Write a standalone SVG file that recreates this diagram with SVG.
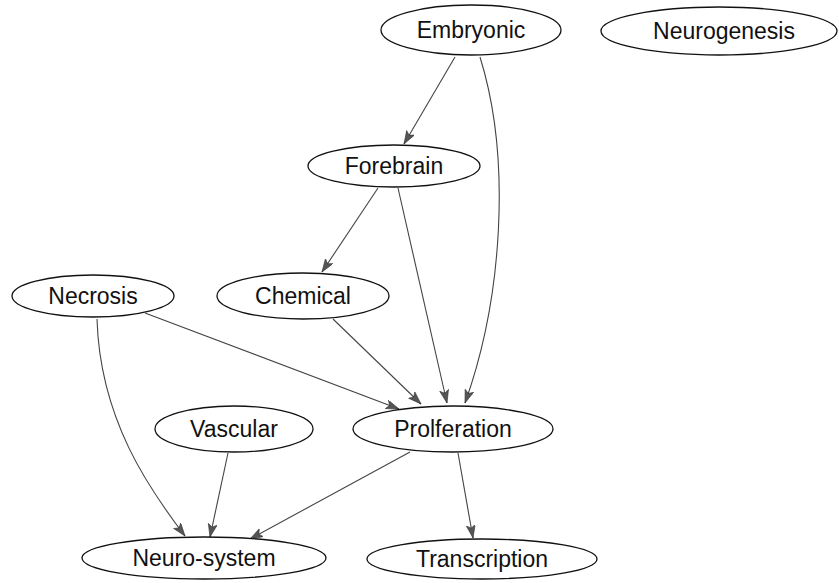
<svg xmlns="http://www.w3.org/2000/svg" width="839" height="583" viewBox="0 0 839 583">
<style>
.node ellipse{fill:#fff;stroke:#111;stroke-width:1.3}
.node text{font-family:"Liberation Sans",Arial,sans-serif;font-size:23px;fill:#111;text-anchor:middle}
.edge{fill:none;stroke:#444;stroke-width:1.1;marker-end:url(#arr)}
</style>
<defs>
<marker id="arr" markerUnits="userSpaceOnUse" markerWidth="14" markerHeight="10" refX="13" refY="4.5" orient="auto">
<path d="M0,0 L13,4.5 L0,9 L3,4.5 z" fill="#555" stroke="#333" stroke-width="0.6"/>
</marker>
</defs>
<rect width="839" height="583" fill="#fff"/>
<g id="connectors">
<path class="edge" d="M455,57 L404,144"/>
<path class="edge" d="M480,57 C512,160 502,300 465,403"/>
<path class="edge" d="M378,188 L322,272"/>
<path class="edge" d="M398,188 L447,403"/>
<path class="edge" d="M145,313 L399,409"/>
<path class="edge" d="M97,319 C100,420 150,490 185,536"/>
<path class="edge" d="M333,319 L421,404"/>
<path class="edge" d="M228,453 L210,537"/>
<path class="edge" d="M410,452 L250,539"/>
<path class="edge" d="M458,453 L473,538"/>
</g>
<g id="embryonic" class="node"><ellipse cx="471" cy="30" rx="90" ry="25"/><text x="471" y="38">Embryonic</text></g>
<g id="neurogenesis" class="node"><ellipse cx="719" cy="31" rx="118" ry="24"/><text x="724" y="39">Neurogenesis</text></g>
<g id="forebrain" class="node"><ellipse cx="394" cy="166" rx="86" ry="21"/><text x="394" y="174">Forebrain</text></g>
<g id="necrosis" class="node"><ellipse cx="93" cy="296" rx="81" ry="21"/><text x="93" y="304">Necrosis</text></g>
<g id="chemical" class="node"><ellipse cx="303" cy="296" rx="86" ry="23"/><text x="303" y="304">Chemical</text></g>
<g id="vascular" class="node"><ellipse cx="234" cy="429" rx="79" ry="23"/><text x="234" y="437">Vascular</text></g>
<g id="proliferation" class="node"><ellipse cx="453" cy="429" rx="100" ry="23"/><text x="453" y="437">Prolferation</text></g>
<g id="neuro-system" class="node"><ellipse cx="204" cy="558" rx="122" ry="21"/><text x="204" y="566">Neuro-system</text></g>
<g id="transcription" class="node"><ellipse cx="482" cy="559" rx="115" ry="20"/><text x="482" y="567">Transcription</text></g>
</svg>
